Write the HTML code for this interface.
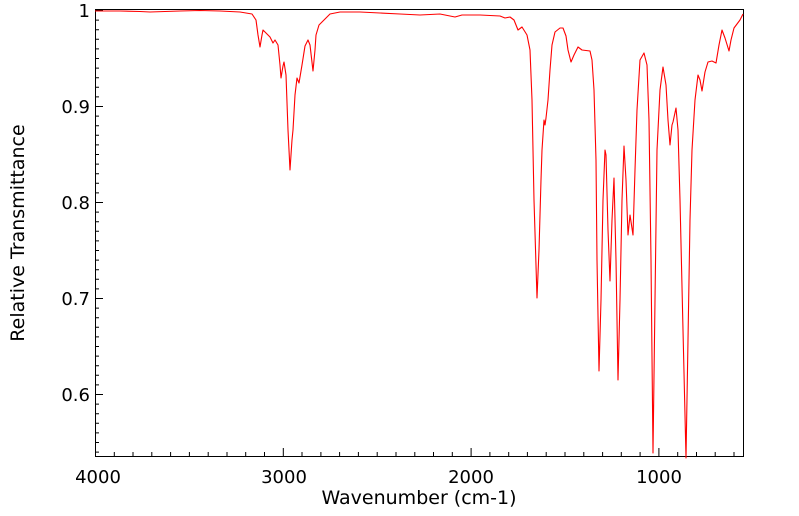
<!DOCTYPE html>
<html><head><style>body{margin:0;background:#fff}svg{display:block}text{font-family:"DejaVu Sans","Liberation Sans",sans-serif;fill:#000}</style></head>
<body>
<svg width="799" height="516" viewBox="0 0 799 516" xmlns="http://www.w3.org/2000/svg">
<rect width="799" height="516" fill="#fff"/>
<g stroke="#000" stroke-width="1">
<rect x="95.5" y="9.5" width="648" height="447" fill="none"/>
<path d="M95.5 456v-8M114.3 456v-4M133 456v-4M151.8 456v-4M170.6 456v-4M189.4 456v-4M208.2 456v-4M227 456v-4M245.7 456v-4M264.5 456v-4M283.3 456v-8M302 456v-4M320.9 456v-4M339.6 456v-4M358.4 456v-4M377.2 456v-4M396 456v-4M414.8 456v-4M433.5 456v-4M452.3 456v-4M471.1 456v-8M489.9 456v-4M508.7 456v-4M527.4 456v-4M546.2 456v-4M565 456v-4M583.8 456v-4M602.6 456v-4M621.3 456v-4M640.1 456v-4M658.9 456v-8M677.7 456v-4M696.5 456v-4M715.2 456v-4M734 456v-4"/>
<path d="M95 10.5h8M95 20.1h4M95 29.7h4M95 39.3h4M95 48.9h4M95 58.5h4M95 68.1h4M95 77.7h4M95 87.3h4M95 96.9h4M95 106.5h8M95 116.1h4M95 125.7h4M95 135.3h4M95 144.9h4M95 154.5h4M95 164.1h4M95 173.7h4M95 183.3h4M95 192.9h4M95 202.5h8M95 212.1h4M95 221.7h4M95 231.3h4M95 240.9h4M95 250.5h4M95 260.1h4M95 269.7h4M95 279.3h4M95 288.9h4M95 298.5h8M95 308.1h4M95 317.7h4M95 327.3h4M95 336.9h4M95 346.5h4M95 356.1h4M95 365.7h4M95 375.3h4M95 384.9h4M95 394.5h8M95 404.1h4M95 413.7h4M95 423.3h4M95 432.9h4M95 442.5h4M95 452.1h4"/>
</g>
<g font-size="18" text-anchor="end">
<text x="90" y="17">1</text><text x="90" y="113">0.9</text><text x="90" y="209">0.8</text><text x="90" y="305">0.7</text><text x="90" y="401">0.6</text>
</g>
<g font-size="18" text-anchor="middle">
<text x="98" y="483">4000</text><text x="284" y="483">3000</text><text x="471" y="483">2000</text><text x="659" y="483">1000</text>
</g>
<g font-size="19" text-anchor="middle">
<text x="419" y="504">Wavenumber (cm-1)</text>
<text transform="translate(24,233) rotate(-90)">Relative Transmittance</text>
</g>
<polyline fill="none" stroke="#f00" stroke-width="1.1" stroke-linejoin="round" points="
95,11 120,11 140,11.5 150,12 165,11.5 180,11 200,10.5 220,11 240,12 252,14 256,20 258,35 260,47 262,35 263,30 266,33 270,37 273,43 275,40 278,45 280,65 281,78 283,66 284,62 286,75 288,130 290,170 292,140 293,130 295,95 297,78 299,83 302,65 305,46 308,40 310,45 313,71 315,50 316,35 319,25 322,22 330,14 340,12 360,12 380,13 400,14 420,15 440,14 455,17 462,15 480,15 500,16 505,18 510,17 514,20 518,30 522,27 527,35 530,50 532,100 534,200 537,298 539,250 541,180 542,150 544,120 545,125 546,118 548,100 550,70 552,45 555,32 560,28 563,28 566,36 568,50 571,62 574,55 578,47 582,50 590,51 592,60 594,90 596,160 597,260 599,371 601,300 603,200 605,150 606,155 608,230 610,281 612,220 614,178 616,260 618,380 620,300 622,200 624,146 626,180 628,235 630,215 633,235 635,170 637,110 640,60 644,53 647,65 649,120 651,260 653,453 655,300 657,150 660,90 663,67 666,85 668,120 670,145 672,125 673,122 676,108 678,130 680,200 683,330 686,458 688,340 690,220 692,150 695,100 698,75 700,80 702,91 705,72 708,62 712,61 716,63 719,45 722,30 725,38 729,51 731,40 734,28 737,24 740,20 743,14"/>
</svg>
</body></html>
